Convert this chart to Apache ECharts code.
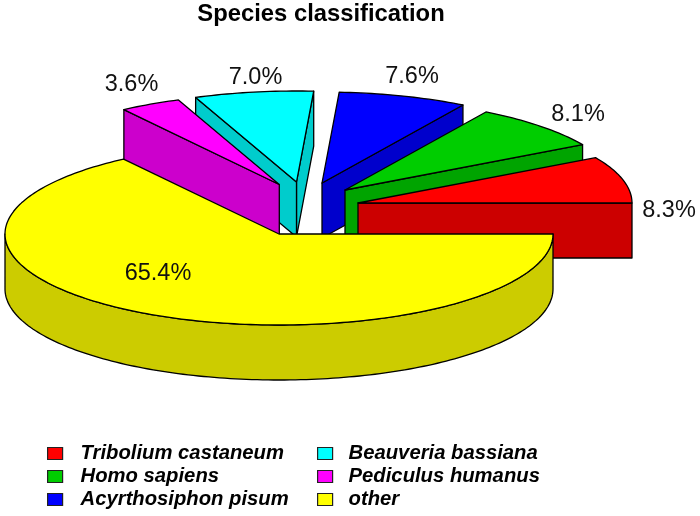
<!DOCTYPE html>
<html>
<head>
<meta charset="utf-8">
<style>html,body{margin:0;padding:0;background:#fff}#c{width:700px;height:516px;filter:blur(0.4px)}</style>
<script src="https://cdn.jsdelivr.net/npm/echarts@6/dist/echarts.min.js"></script>
</head>
<body>
<div id="c"></div>
<script>
// ---- data
const categories = ['Tribolium castaneum','Homo sapiens','Acyrthosiphon pisum','Beauveria bassiana','Pediculus humanus','other'];
const shares = [8.3, 8.1, 7.6, 7.0, 3.6, 65.4];

// ---- styling
const topColors  = ['#ff0000','#00cd00','#0000ff','#00ffff','#ff00ff','#ffff00'];
const wallColors = ['#cc0000','#00a400','#0000cc','#00cccc','#cc00cc','#cccc00'];
const drawOrder  = [3, 4, 2, 1, 0, 5];

// ---- layout: the axes are in units of the pie radius (ellipse radii 274 x 91 px)
const cx = 279, cy = 234, rx = 274, ry = 91;
const depth = 55 / ry;
const explode = [[79/rx,31/ry],[66/rx,44/ry],[43/rx,51/ry],[17.5/rx,52/ry],[0.3/rx,49.5/ry],[0,0]];
const labelAt = [[390/rx,23.5/ry],[299/rx,119.5/ry],[133/rx,157.5/ry],[-23.5/rx,156.5/ry],[-147.5/rx,149/ry],[-121/rx,-39.5/ry]];

const total = shares.reduce((a, b) => a + b, 0);
const starts = [];
shares.reduce((acc, v, i) => { starts[i] = acc; return acc + v; }, 0);
const rad = p => p / total * 2 * Math.PI;

function arc(a0, a1, dx, dy, drop) {
  const pts = [], n = Math.max(2, Math.ceil((a1 - a0) / 0.02));
  for (let k = 0; k <= n; k++) {
    const a = a0 + (a1 - a0) * k / n;
    pts.push([dx + Math.cos(a), dy + Math.sin(a) - drop]);
  }
  return pts;
}

function renderSlice(params, api) {
  const i = api.value(0);
  const a0 = rad(starts[i]), a1 = rad(starts[i] + shares[i]);
  const [dx, dy] = explode[i];
  const lw = 1.3;
  const poly = (pts, fill) => ({
    type: 'polygon',
    shape: { points: pts.map(p => api.coord(p)) },
    style: { fill, stroke: '#000', lineWidth: lw, lineJoin: 'round' }
  });
  const cut = a => [
    [dx, dy],
    [dx + Math.cos(a), dy + Math.sin(a)],
    [dx + Math.cos(a), dy + Math.sin(a) - depth],
    [dx, dy - depth]
  ];
  const children = [];
  if (Math.cos(a0) > 0) children.push(poly(cut(a0), wallColors[i]));
  if (Math.cos(a1) < 0) children.push(poly(cut(a1), wallColors[i]));
  const lo = Math.max(a0, Math.PI), hi = Math.min(a1, 2 * Math.PI);
  if (hi > lo) {
    children.push(poly(arc(lo, hi, dx, dy, 0).concat(arc(lo, hi, dx, dy, depth).reverse()), wallColors[i]));
  }
  children.push(poly([[dx, dy]].concat(arc(a0, a1, dx, dy, 0)), topColors[i]));
  const at = api.coord(labelAt[i]);
  children.push({
    type: 'text',
    x: at[0], y: at[1],
    style: {
      text: shares[i].toFixed(1) + '%',
      fontFamily: '"Liberation Sans", Arial, sans-serif',
      fontSize: 23.5, fill: '#111',
      align: 'center', verticalAlign: 'middle'
    }
  });
  return { type: 'group', children };
}

const legendText = pad => ({
  fontFamily: '"Liberation Sans", Arial, sans-serif',
  fontStyle: 'italic', fontWeight: 'bold', fontSize: 20.25, color: '#000', lineHeight: 23,
  padding: [0, 0, 0, pad]
});
const legendBase = {
  orient: 'vertical', icon: 'rect', itemWidth: 15, itemHeight: 12, itemGap: 0,
  selectedMode: false, padding: 0,
  itemStyle: { borderColor: '#222', borderWidth: 1.2 }
};

const chart = echarts.init(document.getElementById('c'), null, { renderer: 'canvas' });
chart.setOption({
  animation: false,
  backgroundColor: '#fff',
  title: {
    text: 'Species classification', left: 316, top: -3, textAlign: 'center',
    textStyle: { fontFamily: '"Liberation Sans", Arial, sans-serif', fontWeight: 'bold', fontSize: 23.8, color: '#000' }
  },
  grid: { left: 0, right: 0, top: 0, bottom: 0 },
  xAxis: { type: 'value', min: -cx / rx, max: (700 - cx) / rx, show: false },
  yAxis: { type: 'value', min: -(516 - cy) / ry, max: cy / ry, show: false },
  legend: [
    Object.assign({}, legendBase, { left: 47, top: 442, textStyle: legendText(13), data: categories.slice(0, 3) }),
    Object.assign({}, legendBase, { left: 317, top: 442, textStyle: legendText(11), data: categories.slice(3) })
  ],
  series: drawOrder.map(i => ({
    type: 'custom',
    name: categories[i],
    coordinateSystem: 'cartesian2d',
    clip: false,
    silent: true,
    itemStyle: { color: topColors[i] },
    data: [[i, shares[i]]],
    encode: { x: 0, y: 1 },
    renderItem: renderSlice
  }))
});
</script>
</body>
</html>
